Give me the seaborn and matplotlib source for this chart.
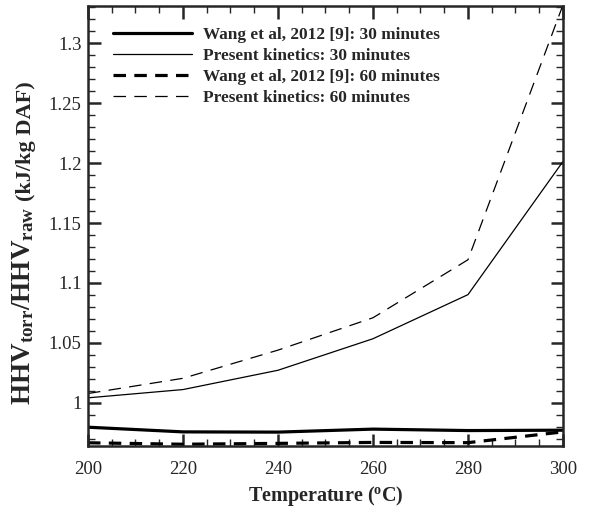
import matplotlib
matplotlib.use("Agg")
import matplotlib.pyplot as plt
from matplotlib.ticker import MultipleLocator, FuncFormatter
import seaborn as sns
import pandas as pd

temperature = [200, 220, 240, 260, 280, 300]
wang_30 = [0.9797, 0.9758, 0.9756, 0.9781, 0.9769, 0.9772]
present_30 = [1.0042, 1.0111, 1.0272, 1.0535, 1.0903, 1.2014]
wang_60 = [0.9667, 0.9655, 0.9662, 0.9670, 0.9668, 0.9758]
present_60 = [1.0078, 1.0205, 1.0440, 1.0710, 1.1194, 1.3320]

labels = ["Wang et al, 2012 [9]: 30 minutes",
          "Present kinetics: 30 minutes",
          "Wang et al, 2012 [9]: 60 minutes",
          "Present kinetics: 60 minutes"]
series = [wang_30, present_30, wang_60, present_60]

sns.set_style("ticks")
plt.rcParams['font.family'] = ['Liberation Serif', 'DejaVu Serif']
plt.rcParams['mathtext.fontset'] = 'custom'
plt.rcParams['mathtext.rm'] = 'Liberation Serif'
plt.rcParams['mathtext.bf'] = 'Liberation Serif:bold'
plt.rcParams['mathtext.it'] = 'Liberation Serif:italic'
plt.rcParams['lines.scale_dashes'] = False

fig = plt.figure(figsize=(5.92, 5.08), dpi=100)
ax = fig.add_axes([0.1486, 0.122, 0.951 - 0.1486, 0.988 - 0.122])

styles = [dict(lw=2.3, dashes=None), dict(lw=0.9, dashes=None),
          dict(lw=2.3, dashes=(9, 6)), dict(lw=0.9, dashes=(9, 6))]

for lab, vals, st in zip(labels, series, styles):
    df = pd.DataFrame({"T": temperature, "v": vals})
    sns.lineplot(data=df, x="T", y="v", ax=ax, color="black", lw=st["lw"],
                 label=lab)
    line = ax.get_lines()[-1]
    if st["dashes"] is not None:
        line.set_dashes(st["dashes"])

ax.set_xlim(200, 300)
ax.set_ylim(0.9640, 1.3310)
ax.xaxis.set_major_locator(MultipleLocator(20))
ax.xaxis.set_minor_locator(MultipleLocator(5))
ax.yaxis.set_major_locator(MultipleLocator(0.05))
ax.yaxis.set_minor_locator(MultipleLocator(0.01))
ax.yaxis.set_major_formatter(FuncFormatter(lambda v, p: "%g" % round(v, 4)))

ax.tick_params(which="both", direction="in", top=True, right=True,
               labelsize=13.5)
ax.tick_params(axis="x", which="major", pad=11)
ax.tick_params(axis="y", which="major", pad=4.5)
ax.tick_params(which="major", length=9, width=1.8)
ax.tick_params(which="minor", length=5, width=1.0)
for s in ax.spines.values():
    s.set_linewidth(1.8)

ax.set_xlabel(r"Temperature ($^{\mathbf{o}}$C)", fontsize=14.5,
              fontweight="bold", labelpad=4)
ax.set_ylabel("")

# y label in two parts (larger HHV ratio, smaller units), as in the reference
xb = 30.5 / 592
fig.text(xb, (508 - 207) / 508, r"$\mathbf{HHV_{torr}/HHV_{raw}}$",
         rotation=90, rotation_mode="anchor", ha="right", va="baseline",
         fontsize=19.5, fontweight="bold")
fig.text(xb, (508 - 201) / 508, "(kJ/kg DAF)",
         rotation=90, rotation_mode="anchor", ha="left", va="baseline",
         fontsize=16, fontweight="bold")

leg = ax.legend(loc="upper left", frameon=False, prop={"weight": "bold", "size": 12.4},
                handlelength=4.6, handletextpad=0.64, labelspacing=0.28,
                borderaxespad=0.3, bbox_to_anchor=(0.027, 0.98))

fig.savefig("out.png", dpi=100)
